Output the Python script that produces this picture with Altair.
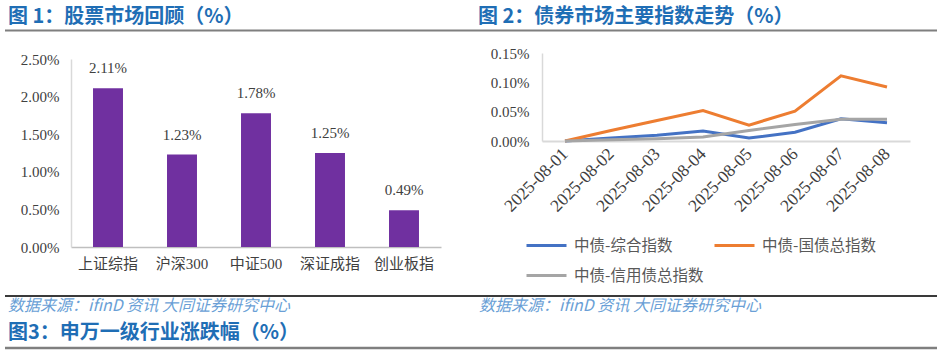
import altair as alt
import pandas as pd

# ---------------- data ----------------
# Figure 1: stock market review (%)
stock_names = ["上证综指", "沪深300", "中证500", "深证成指", "创业板指"]
stock_returns = [2.11, 1.23, 1.78, 1.25, 0.49]
stock_ticks = [0.0, 0.5, 1.0, 1.5, 2.0, 2.5]

# Figure 2: bond indices (%)
bond_dates = ["2025-08-01", "2025-08-02", "2025-08-03", "2025-08-04",
              "2025-08-05", "2025-08-06", "2025-08-07", "2025-08-08"]
bond_series = ["中债-综合指数", "中债-国债总指数", "中债-信用债总指数"]
bond_composite = [0.000, 0.005, 0.010, 0.017, 0.005, 0.015, 0.038, 0.031]
bond_treasury = [0.000, 0.018, 0.035, 0.052, 0.027, 0.051, 0.111, 0.092]
bond_credit = [0.000, 0.002, 0.004, 0.007, 0.018, 0.028, 0.037, 0.037]
bond_ticks = [0.0, 0.05, 0.10, 0.15]

title1 = "图 1：股票市场回顾（%）"
title2 = "图 2：债券市场主要指数走势（%）"
title3 = "图3：申万一级行业涨跌幅（%）"
source = "数据来源：ifinD 资讯 大同证券研究中心"

# ---------------- styles ----------------
NUM_FONT = "Liberation Serif, Noto Sans CJK SC"
CJK_FONT = "Noto Sans CJK SC"
TITLE_BLUE = "#1F6EB5"
SRC_BLUE = "#6A9FD6"
LABEL = "#404040"

W, H = 942, 354

bar_df = pd.DataFrame({"name": stock_names, "ret": stock_returns})
line_df = pd.DataFrame({
    "date": bond_dates * 3,
    "series": [bond_series[0]] * 8 + [bond_series[1]] * 8 + [bond_series[2]] * 8,
    "value": bond_composite + bond_treasury + bond_credit,
})

pct_expr = "format(datum.value, '.2f') + '%'"

# ---------------- figure 1 ----------------
bx = alt.X("name:N", sort=stock_names, title=None,
           scale=alt.Scale(range=[71, 441], paddingInner=0.595, paddingOuter=0.2975),
           axis=alt.Axis(orient="bottom", offset=-(H - 247), labelAngle=0,
                         labelFont=NUM_FONT, labelFontSize=15, labelColor=LABEL,
                         labelPadding=9, ticks=False, grid=False,
                         domainColor="#BFBFBF", domainWidth=1.5))
by = alt.Y("ret:Q", title=None,
           scale=alt.Scale(domain=[0, 2.5], range=[247, 59], nice=False),
           axis=alt.Axis(orient="left", offset=-71, values=stock_ticks,
                         labelExpr=pct_expr, labelFont=NUM_FONT, labelFontSize=15,
                         labelColor=LABEL, labelPadding=12, ticks=False, grid=False,
                         domainColor="#D9D9D9", domainWidth=1.5))

bar_base = alt.Chart(bar_df).encode(x=bx, y=by)
bars = bar_base.mark_bar(color="#7030A0")
bar_labels = bar_base.transform_calculate(
    lab="format(datum.ret, '.2f') + '%'"
).mark_text(baseline="alphabetic", dy=-15, font=NUM_FONT, fontSize=15,
            color=LABEL).encode(text="lab:N")
fig1 = alt.layer(bars, bar_labels)

# ---------------- figure 2 ----------------
lx = alt.X("date:O", sort=bond_dates, title=None,
           scale=alt.Scale(type="point", range=[542, 910], padding=0.5),
           axis=alt.Axis(orient="bottom", offset=-(H - 141), labelAngle=-45,
                         labelAlign="right", labelBaseline="middle",
                         labelFont=NUM_FONT, labelFontSize=17.5, labelColor=LABEL,
                         labelPadding=10, ticks=False, grid=False,
                         domainColor="#D9D9D9", domainWidth=2))
ly = alt.Y("value:Q", title=None,
           scale=alt.Scale(domain=[0, 0.15], range=[141, 53], nice=False),
           axis=alt.Axis(orient="left", offset=-542, values=bond_ticks,
                         labelExpr=pct_expr, labelFont=NUM_FONT, labelFontSize=15,
                         labelColor=LABEL, labelPadding=13, ticks=False, grid=False,
                         domainColor="#D9D9D9", domainWidth=1.5))
lc = alt.Color("series:N", title=None,
               scale=alt.Scale(domain=bond_series,
                               range=["#4472C4", "#ED7D31", "#A5A5A5"]),
               legend=alt.Legend(orient="none", legendX=525, legendY=224,
                                 direction="horizontal", columns=2,
                                 symbolType="stroke", symbolSize=1600,
                                 symbolStrokeWidth=3, labelOffset=6,
                                 labelFont=CJK_FONT, labelFontSize=15.5,
                                 labelColor="#595959", columnPadding=4,
                                 rowPadding=-11))
fig2 = alt.Chart(line_df).mark_line(strokeWidth=3).encode(
    x=lx, y=ly, color=lc, order=alt.Order("date:O"))


# ---------------- decorations ----------------
def text_layer(txt, x, y, size, color, weight="normal", style="normal", font=CJK_FONT):
    return alt.Chart(pd.DataFrame({"t": [txt]})).mark_text(
        align="left", baseline="middle", fontSize=size, color=color,
        fontWeight=weight, fontStyle=style, font=font
    ).encode(x=alt.value(x), y=alt.value(y), text="t:N")


def rule_layer(x1, x2, y, color, w):
    return alt.Chart(pd.DataFrame({"a": [0]})).mark_rule(
        color=color, strokeWidth=w
    ).encode(x=alt.value(x1), x2=alt.value(x2), y=alt.value(y))


decor = [
    text_layer(title1, 8, 17, 20, TITLE_BLUE, weight="bold"),
    text_layer(title2, 478, 17, 20, TITLE_BLUE, weight="bold"),
    rule_layer(5, 937, 30.5, "#7F7F7F", 2),
    rule_layer(5, 937, 296, "#3A3A3A", 2),
    text_layer(source, 8, 306, 16, SRC_BLUE, style="italic"),
    text_layer(source, 479, 306, 16, SRC_BLUE, style="italic"),
    text_layer(title3, 8, 333, 20, TITLE_BLUE, weight="bold"),
    rule_layer(5, 937, 348, "#7F7F7F", 2.5),
]

chart = alt.layer(fig1, fig2, *decor).resolve_scale(
    x="independent", y="independent"
).resolve_axis(
    x="independent", y="independent"
).properties(
    width=W, height=H, autosize="none", padding=0, background="white"
).configure_view(strokeWidth=0)

chart.save("out.html", embed_options={"renderer": "svg", "actions": False})
